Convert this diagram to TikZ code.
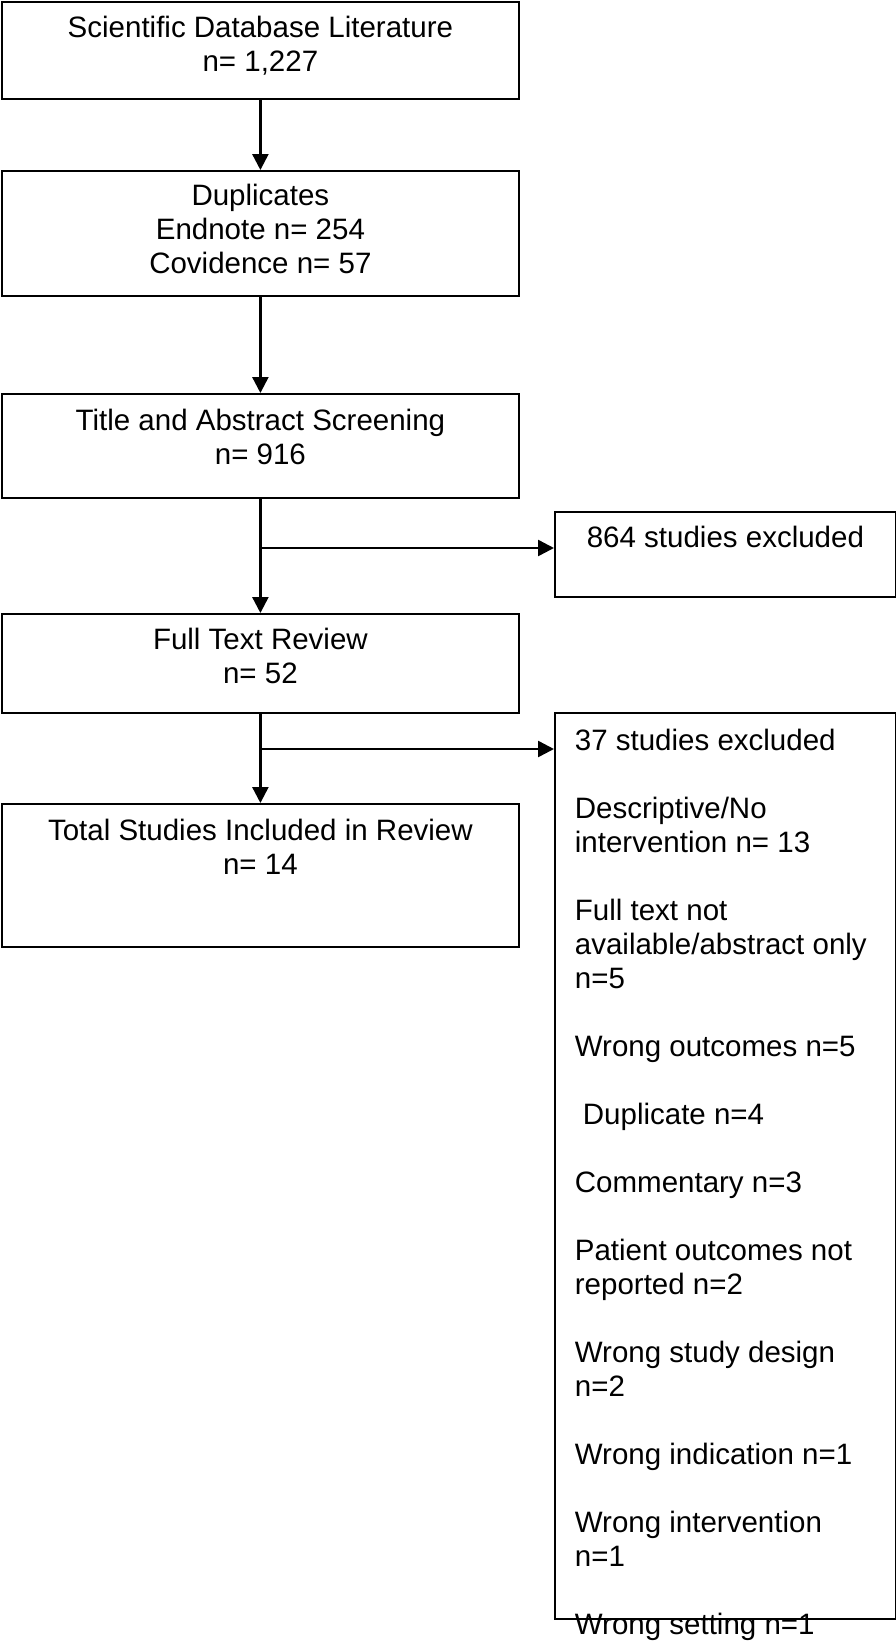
\documentclass[tikz,border=0pt]{standalone}
\usepackage{fontspec}
\setmainfont{Liberation Sans}
\usetikzlibrary{arrows.meta}
\begin{document}
\begin{tikzpicture}[x=1pt,y=-1pt,line width=2.5pt,
>={Triangle[length=16pt,width=16pt]},
flowbox/.style={draw,rectangle,anchor=north west,inner sep=0pt,line width=1.8pt,font=\fontsize{29.5}{34}\selectfont}]

\useasboundingbox (0,0) rectangle (896,1642);

\draw (1,1) node[flowbox] (lit) {\parbox[t][97pt][t]{517pt}{\centering\rule{0pt}{36pt}Scientific Database Literature\\ n= 1,227}};

\draw (1,170) node[flowbox] (dup) {\parbox[t][125pt][t]{517pt}{\centering\rule{0pt}{35pt}Duplicates\\ Endnote n= 254\\ Covidence n= 57}};

\draw (1,393) node[flowbox] (screen) {\parbox[t][104pt][t]{517pt}{\centering\rule{0pt}{37pt}Title and Abstract Screening\\ n= 916}};

\draw (554,511) node[flowbox] (exc1) {\parbox[t][85pt][t]{341pt}{\centering\rule{0pt}{36pt}864 studies excluded}};

\draw (1,613) node[flowbox] (full) {\parbox[t][99pt][t]{517pt}{\centering\rule{0pt}{36pt}Full Text Review\\ n= 52}};

\draw (1,803) node[flowbox] (incl) {\parbox[t][143pt][t]{517pt}{\centering\rule{0pt}{37pt}Total Studies Included in Review\\ n= 14}};

% reasons list runs past the bottom of its box
\draw (554,712) node[flowbox] (exc2) {\parbox[t][906pt][t]{341pt}{\raggedright\leftskip=20pt\rule{0pt}{38pt}37 studies excluded\\[34pt]
Descriptive/No\\intervention n= 13\\[34pt]
Full text not\\available/abstract only\\n=5\\[34pt]
Wrong outcomes n=5\\[34pt]
\hspace*{8pt}Duplicate n=4\\[34pt]
Commentary n=3\\[34pt]
Patient outcomes not\\reported n=2\\[34pt]
Wrong study design\\n=2\\[34pt]
Wrong indication n=1\\[34pt]
Wrong intervention\\n=1\\[34pt]
Wrong setting n=1}};

\draw[->] (lit) -- (dup);
\draw[->] (dup) -- (screen);
\draw[->] (screen) -- (full);
\draw[->] (full) -- (incl);

\coordinate (split1) at (259.5,548);
\coordinate (split2) at (259.5,749);
\draw[->] (split1) -- (split1 -| exc1.west);
\draw[->] (split2) -- (split2 -| exc2.west);
\end{tikzpicture}
\end{document}
